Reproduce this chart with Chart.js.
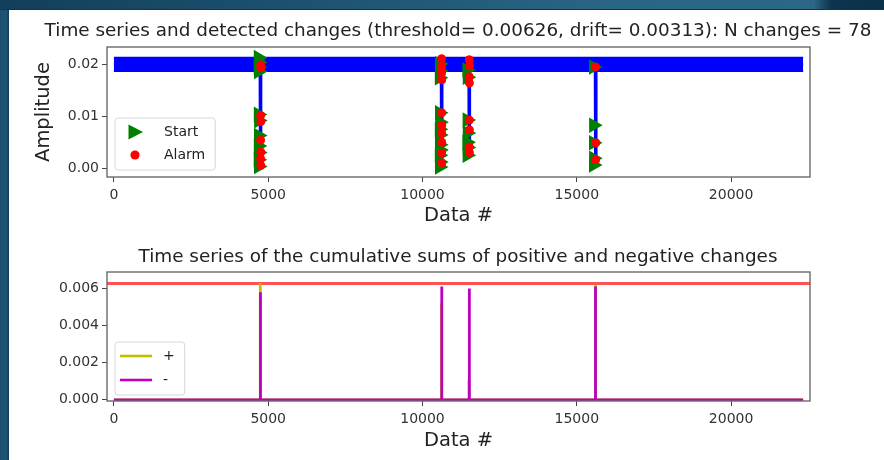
<!DOCTYPE html>
<html>
<head>
<meta charset="utf-8">
<script src="https://cdn.jsdelivr.net/npm/chart.js@4.4.1/dist/chart.umd.min.js"></script>
<style>
html,body{margin:0;padding:0;}
body{width:884px;height:460px;position:relative;overflow:hidden;background:#174a67;}
#topbar{position:absolute;left:0;top:0;width:884px;height:10px;background:linear-gradient(90deg,#123f5a 0%,#1d5272 35%,#2b6585 70%,#2d6788 92%,#0d3550 94%,#0b3049 100%);border-bottom:1px solid #0d3550;box-sizing:border-box;}
#leftbar{position:absolute;left:0;top:10px;width:9px;height:450px;background:linear-gradient(90deg,#1b5070 0%,#1d5676 70%,#0e3a55 100%);}
#paper{position:absolute;left:9px;top:10px;width:875px;height:450px;background:#ffffff;}
.cv{position:absolute;left:0;width:884px;height:230px;}
</style>
</head>
<body>
<div id="topbar"></div><div id="leftbar"></div><div id="paper"></div>
<div class="cv" style="top:0px"><canvas id="c1" width="884" height="230"></canvas></div>
<div class="cv" style="top:230px"><canvas id="c2" width="884" height="230"></canvas></div>
<script>
// ---------------- data ----------------
const nSamples = 22334;
const threshold = 0.00626;
const drift = 0.00313;
const nChanges = 78;

const xTicks = [0, 5000, 10000, 15000, 20000];
const ampTicks = [0, 0.01, 0.02];
const cusumTicks = [0, 0.002, 0.004, 0.006];

const titleTop = 'Time series and detected changes (threshold= ' + threshold + ', drift= ' + drift + '): N changes = ' + nChanges;
const titleBottom = 'Time series of the cumulative sums of positive and negative changes';
const xLabel = 'Data #';
const yLabel = 'Amplitude';
const legendTop = ['Start', 'Alarm'];
const legendBottom = ['+', '-'];

// envelope of the noisy amplitude level
const bandX = [0, 22334];
const bandHigh = [0.0214, 0.0214];
const bandLow = [0.0188, 0.0188];

// amplitude signal with its drop-outs
const signalX = [0, 4745, 4750, 4757, 10615, 10620, 10627, 11510, 11515, 11522, 15605, 15612, 15619, 22334];
const signalY = [0.0201, 0.0201, 0.0000, 0.0201, 0.0201, 0.0010, 0.0201, 0.0201, 0.0024, 0.0201, 0.0201, 0.0002, 0.0201, 0.0201];

// detected starts (green triangles)
const startX = [4680, 4690, 4675, 4685, 4680, 4690, 4685, 4680, 4690, 4675, 4685,
                10550, 10555, 10545, 10550, 10560, 10545, 10555, 10550, 10560, 10545, 10555, 10550,
                11440, 11450, 11445, 11450, 11440, 11450, 11445,
                15540, 15545, 15540, 15545, 15540];
const startY = [0.0214, 0.0205, 0.0196, 0.0187, 0.0104, 0.0092, 0.0063, 0.0043, 0.0030, 0.0016, 0.0003,
                0.0202, 0.0188, 0.0175, 0.0107, 0.0089, 0.0075, 0.0064, 0.0045, 0.0035, 0.0025, 0.0012, 0.0002,
                0.0190, 0.0176, 0.0093, 0.0068, 0.0050, 0.0040, 0.0025,
                0.0196, 0.0083, 0.0049, 0.0019, 0.0006];

// alarms (red dots)
const alarmX = [4755, 4760, 4755, 4760, 4755, 4760, 4755, 4760,
                10620, 10625, 10620, 10625, 10620, 10625, 10620, 10625, 10620, 10625,
                11515, 11520, 11515, 11520, 11515, 11520, 11515, 11520,
                15612, 15615, 15612];
const alarmY = [0.0200, 0.0194, 0.0102, 0.0090, 0.0054, 0.0031, 0.0018, 0.0005,
                0.0212, 0.0198, 0.0184, 0.0171, 0.0107, 0.0083, 0.0068, 0.0050, 0.0029, 0.0010,
                0.0210, 0.0198, 0.0177, 0.0165, 0.0093, 0.0074, 0.0041, 0.0030,
                0.0196, 0.0049, 0.0016];

// cumulative sums
const gpX = [0, 4735, 4740, 4748, 10608, 10613, 10620, 11500, 11505, 11512, 15598, 15603, 15610, 22334];
const gpY = [0, 0, 0.0063, 0, 0, 0.0052, 0, 0, 0.0011, 0, 0, 0.0062, 0, 0];
const gnX = [0, 4740, 4745, 4752, 10616, 10621, 10628, 11510, 11515, 11522, 15596, 15600, 15606, 15613, 22334];
const gnY = [0, 0, 0.0058, 0, 0, 0.0061, 0, 0, 0.0060, 0, 0, 0.0034, 0.0061, 0, 0];

// ---------------- helpers ----------------
const FONT = "'DejaVu Sans', 'Liberation Sans', sans-serif";
const xMin = -0.01 * nSamples, xMax = 1.01 * nSamples - 1;
const ampMin = -0.00173, ampMax = 0.02346;
const cusumMin = -0.01 * threshold, cusumMax = 1.1 * threshold;
function pts(xs, ys) { return xs.map((x, i) => ({x: x, y: ys[i]})); }
function icon(w, h, draw) { const c = document.createElement('canvas'); c.width = w; c.height = h; draw(c.getContext('2d')); return c; }

const iconsTop = {
  'Start': icon(38, 20, g => { g.fillStyle = '#008000'; g.beginPath(); g.moveTo(24, 10); g.lineTo(9.5, 2.5); g.lineTo(9.5, 17.5); g.closePath(); g.fill(); }),
  'Alarm': icon(38, 20, g => { g.fillStyle = '#ff0000'; g.beginPath(); g.arc(16, 10, 4.6, 0, Math.PI * 2); g.fill(); })
};
const iconsBottom = {
  '+': icon(40, 10, g => { g.strokeStyle = '#bfbf00'; g.lineWidth = 2.6; g.beginPath(); g.moveTo(4, 5); g.lineTo(36, 5); g.stroke(); }),
  '-': icon(40, 10, g => { g.strokeStyle = '#bf00bf'; g.lineWidth = 2.6; g.beginPath(); g.moveTo(4, 5); g.lineTo(36, 5); g.stroke(); })
};

const helper = {
  id: 'helper',
  afterLayout(chart, args, opts) {
    const lg = chart.legend; if (!lg) return;
    const ca = chart.chartArea;
    lg.left = ca.left + opts.dx; lg.top = ca.bottom - opts.dy;
    lg.width = 300; lg.height = 200;
    lg.right = lg.left + 300; lg.bottom = lg.top + 200;
  },
  beforeDraw(chart, args, opts) {
    const lg = chart.legend; if (!lg || !lg.legendHitBoxes || !lg.legendHitBoxes.length) return;
    const hb = lg.legendHitBoxes, ctx = chart.ctx;
    const l = chart.chartArea.left + 8;
    const t = Math.min(...hb.map(b => b.top)) - 7;
    const r = Math.max(...hb.map(b => b.left + b.width)) + opts.padR;
    const b = Math.max(...hb.map(b => b.top + b.height)) + 8;
    ctx.save();
    ctx.beginPath();
    ctx.roundRect(l, t, r - l, b - t, 3);
    ctx.fillStyle = 'rgba(255,255,255,0.85)';
    ctx.fill();
    ctx.strokeStyle = '#d6d6d6'; ctx.lineWidth = 1;
    ctx.stroke();
    ctx.restore();
  },
  afterDatasetsDraw(chart) {
    const {ctx, chartArea: a} = chart;
    ctx.save();
    ctx.strokeStyle = '#6a6a6a'; ctx.lineWidth = 1.4;
    ctx.strokeRect(a.left, a.top, a.right - a.left, a.bottom - a.top);
    ctx.restore();
  }
};

function legendCfg(names, icons, width, pad) {
  return {
    position: 'chartArea', align: 'start',
    labels: {
      usePointStyle: true, pointStyleWidth: width, boxHeight: 14, padding: pad,
      color: '#222', font: {family: FONT, size: 14},
      generateLabels(chart) {
        const items = Chart.defaults.plugins.legend.labels.generateLabels(chart);
        return items.filter(it => names.includes(it.text))
          .sort((a, b) => names.indexOf(a.text) - names.indexOf(b.text))
          .map(it => Object.assign(it, {pointStyle: icons[it.text], rotation: 0}));
      }
    }
  };
}

function xScale(h, tickPad, titlePadBottom) {
  return {
    type: 'linear', min: xMin, max: xMax,
    afterBuildTicks(s) { s.ticks = xTicks.map(v => ({value: v})); },
    afterFit(s) { s.height = h; },
    ticks: {font: {family: FONT, size: 14}, color: '#333', padding: tickPad, maxRotation: 0, autoSkip: false, callback: v => String(v)},
    grid: {display: true, drawOnChartArea: false, drawTicks: true, tickLength: 5, color: '#444', lineWidth: 1},
    border: {display: false},
    title: {display: true, text: xLabel, color: '#222', font: {family: FONT, size: 19.5}, padding: {top: 0, bottom: titlePadBottom}}
  };
}
function yScale(min, max, ticks, digits, title) {
  const s = {
    type: 'linear', min: min, max: max,
    afterBuildTicks(sc) { sc.ticks = ticks.map(v => ({value: v})); },
    afterFit(sc) { sc.width = 75; },
    ticks: {font: {family: FONT, size: 14}, color: '#333', padding: 3, callback: v => Number(v).toFixed(digits)},
    grid: {display: true, drawOnChartArea: false, drawTicks: true, tickLength: 5, color: '#444', lineWidth: 1},
    border: {display: false}
  };
  if (title) s.title = {display: true, text: title, color: '#222', font: {family: FONT, size: 19.5}, padding: {top: 0, bottom: 0}};
  return s;
}
function spacer() {
  return {
    position: 'right', display: true, min: 0, max: 1,
    afterFit(sc) { sc.width = 74; },
    ticks: {display: false}, grid: {display: false, drawTicks: false}, border: {display: false}
  };
}

// ---------------- top chart ----------------
new Chart(document.getElementById('c1'), {
  type: 'line',
  data: {
    datasets: [
      {label: 'band high', data: pts(bandX, bandHigh), borderColor: '#0000ff', backgroundColor: '#0000ff', borderWidth: 2, pointRadius: 0, fill: '+1', order: 4},
      {label: 'band low', data: pts(bandX, bandLow), borderColor: '#0000ff', backgroundColor: '#0000ff', borderWidth: 2, pointRadius: 0, fill: false, order: 4},
      {label: 'signal', data: pts(signalX, signalY), borderColor: '#0000ff', backgroundColor: '#0000ff', borderWidth: 3.5, pointRadius: 0, fill: false, order: 3},
      {label: 'Start', data: pts(startX, startY), showLine: false, pointStyle: 'triangle', pointRotation: 90, pointRadius: 9, borderWidth: 0,
       backgroundColor: '#008000', borderColor: '#008000', pointBackgroundColor: '#008000', pointBorderColor: '#008000', order: 2},
      {label: 'Alarm', data: pts(alarmX, alarmY), showLine: false, pointStyle: 'circle', pointRadius: 4, borderWidth: 1,
       backgroundColor: '#ff0000', borderColor: '#ff0000', pointBackgroundColor: '#ff0000', pointBorderColor: '#ff0000', order: 1}
    ]
  },
  options: {
    responsive: false, animation: false, devicePixelRatio: 1,
    events: [],
    layout: {padding: {left: 32, right: 0, top: 0, bottom: 0}},
    plugins: {
      title: {display: true, text: titleTop, color: '#222', font: {family: FONT, size: 18.4, weight: 'normal'}, padding: {top: 19.96, bottom: 4.96}},
      legend: legendCfg(legendTop, iconsTop, 38, 9),
      tooltip: {enabled: false},
      helper: {dx: 3, dy: 61, padR: 10}
    },
    scales: {x: xScale(53, 4.5, 2), y: yScale(ampMin, ampMax, ampTicks, 2, yLabel), y2: spacer()}
  },
  plugins: [helper]
});

// ---------------- bottom chart ----------------
new Chart(document.getElementById('c2'), {
  type: 'line',
  data: {
    datasets: [
      {label: 'threshold', data: pts([xMin, xMax], [threshold, threshold]), borderColor: '#ff5252', borderWidth: 3, pointRadius: 0, fill: false, order: 3},
      {label: '+', data: pts(gpX, gpY), borderColor: '#bfbf00', backgroundColor: '#bfbf00', borderWidth: 2.8, pointRadius: 0, fill: false, order: 2},
      {label: '-', data: pts(gnX, gnY), borderColor: '#bf00bf', backgroundColor: '#bf00bf', borderWidth: 2.8, pointRadius: 0, fill: false, order: 1}
    ]
  },
  options: {
    responsive: false, animation: false, devicePixelRatio: 1,
    events: [],
    layout: {padding: {left: 32, right: 0, top: 0, bottom: 0}},
    plugins: {
      title: {display: true, text: titleBottom, color: '#222', font: {family: FONT, size: 18.4, weight: 'normal'}, padding: {top: 16.36, bottom: 3.56}},
      legend: legendCfg(legendBottom, iconsBottom, 40, 10),
      tooltip: {enabled: false},
      helper: {dx: -1, dy: 62, padR: 10}
    },
    scales: {x: xScale(59, 5, 7), y: yScale(cusumMin, cusumMax, cusumTicks, 3, null), y2: spacer()}
  },
  plugins: [helper]
});
</script>
</body>
</html>
